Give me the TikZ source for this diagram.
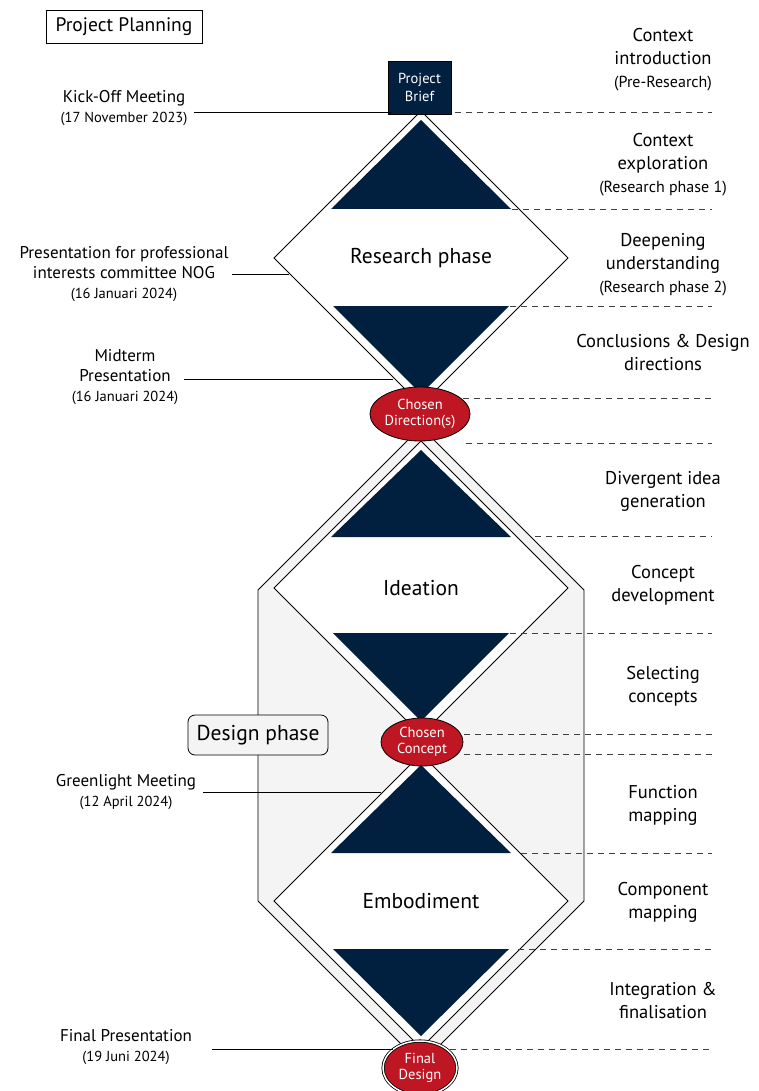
\documentclass[tikz,border=0pt]{standalone}
\usepackage{fontspec}
\setmainfont{PT Sans}
\usetikzlibrary{shapes.geometric}
\definecolor{navy}{HTML}{012040}
\definecolor{chosenred}{HTML}{BE1622}
\definecolor{phasegray}{HTML}{F4F4F4}
\newcommand{\datetxt}[1]{{\fontsize{14.5}{17}\selectfont #1}}
\newcommand{\subtxt}[1]{{\fontsize{16}{19}\selectfont #1}}

\begin{document}
\begin{tikzpicture}[x=1pt,y=-1pt,every path/.style={line width=0.8pt},
  stage/.style={align=center,font=\fontsize{18.5}{23}\selectfont},
  meeting/.style={align=center,font=\fontsize{17}{20}\selectfont},
  choice/.style={ellipse,draw=black,fill=chosenred,text=white,inner sep=0pt,align=center,font=\fontsize{14.5}{16}\selectfont},
  phasename/.style={font=\fontsize{21.5}{26}\selectfont},
  guide/.style={dash pattern=on 6pt off 5pt,draw=black!75},
  face/.style={fill=white,draw=black}]
\useasboundingbox (0,0) rectangle (758,1091);

\coordinate (RT) at (421,111);
\coordinate (RL) at (274,258);
\coordinate (RB) at (421,405);
\coordinate (RR) at (568,258);
\coordinate (IT) at (421,441);
\coordinate (IL) at (274,588);
\coordinate (IB) at (421,735);
\coordinate (IR) at (568,588);
\coordinate (ET) at (421,754);
\coordinate (EL) at (274,901);
\coordinate (EB) at (421,1048);
\coordinate (ER) at (568,901);
\coordinate (OT) at (421,427);
\coordinate (OL) at (258,590);
\coordinate (OLL) at (258,901);
\coordinate (OB) at (421,1064);
\coordinate (ORR) at (584,901);
\coordinate (OR) at (584,590);

\draw[fill=phasegray] (OT) -- (OL) -- (OLL) -- (OB) -- (ORR) -- (OR) -- cycle;  % design phase
\draw[face] (RT) -- (RL) -- (RB) -- (RR) -- cycle;
\draw[face] (IT) -- (IL) -- (IB) -- (IR) -- cycle;
\draw[face] (ET) -- (EL) -- (EB) -- (ER) -- cycle;

\fill[navy] (421,120) -- (331,209) -- (511,209) -- cycle;
\fill[navy] (333,306) -- (509,306) -- (421,394) -- cycle;
\fill[navy] (421,450) -- (331,537) -- (511,537) -- cycle;
\fill[navy] (333,633) -- (509,633) -- (421,721) -- cycle;
\fill[navy] (421,765) -- (331,853) -- (511,853) -- cycle;
\fill[navy] (333,949) -- (509,949) -- (421,1036) -- cycle;

\foreach \y/\x in {112/455,209/512,306/510,398/463,443/466,536/535,633/510,734/464,754/464,853/521,949/518,1049/450}
  \draw[guide] (\x,\y) -- (712,\y);

\node[phasename] (research) at (421,258) {Research phase};
\node[phasename] (ideation) at (421,588) {Ideation};
\node[phasename] (embodiment) at (421,901) {Embodiment};

\node[choice,minimum width=94,minimum height=54] (direction) at (420,414) {Chosen\\Direction(s)};
\node[choice,minimum width=82,minimum height=48] (concept) at (422,742) {Chosen\\Concept};
\node[choice,minimum width=74,minimum height=54,double=white,double distance=1.5pt] (final) at (420,1068) {Final\\Design};
\node[draw=black,fill=navy,text=white,minimum width=63,minimum height=53,align=center,font=\fontsize{14.5}{18}\selectfont] (brief) at (419.5,87.5) {Project\\Brief};

\node[draw=black,minimum width=156,minimum height=33,font=\fontsize{19.5}{22}\selectfont] (planning) at (124,26.5) {Project Planning};
\node[draw=black,fill=phasegray,rounded corners=7,minimum width=140,minimum height=40,font=\fontsize{21.5}{26}\selectfont] (designphase) at (258,735) {Design phase};

% meetings
\node[meeting] (kickoff) at (124,108) {Kick-Off Meeting\\\datetxt{(17 November 2023)}};
\node[meeting] (nog) at (124,274) {Presentation for professional\\interests committee NOG\\\datetxt{(16 Januari 2024)}};
\node[meeting] (midterm) at (125,377) {Midterm\\Presentation\\\datetxt{(16 Januari 2024)}};
\node[meeting] (greenlight) at (126,792) {Greenlight Meeting\\\datetxt{(12 April 2024)}};
\node[meeting] (finalpres) at (126,1047) {Final Presentation\\\datetxt{(19 Juni 2024)}};

\coordinate (kickend) at (391,112);
\coordinate (nogend) at (289,274);
\coordinate (midend) at (393,379);
\coordinate (greenend) at (381,792);
\coordinate (finalend) at (393,1049);

\draw ([xshift=3]kickoff.east |- kickend) -- (kickend);
\draw (nog.east |- nogend) -- (nogend);
\draw ([xshift=2]midterm.east |- midend) -- (midend);
\draw ([xshift=3]greenlight.east |- greenend) -- (greenend);
\draw ([xshift=16]finalpres.east |- finalend) -- (finalend);

% stages
\node[stage] (intro) at (663,60) {Context\\introduction\\\subtxt{(Pre-Research)}};
\node[stage] (explore) at (663,165) {Context\\exploration\\\subtxt{(Research phase 1)}};
\node[stage] (deepen) at (663,265) {Deepening\\understanding\\\subtxt{(Research phase 2)}};
\node[stage] (conclude) at (663,353) {Conclusions \& Design\\directions};
\node[stage] (diverge) at (663,491) {Divergent idea\\generation};
\node[stage] (develop) at (663,585) {Concept\\development};
\node[stage] (select) at (663,686) {Selecting\\concepts};
\node[stage] (function) at (663,805) {Function\\mapping};
\node[stage] (component) at (663,902) {Component\\mapping};
\node[stage] (integrate) at (663,1001) {Integration \&\\finalisation};
\end{tikzpicture}
\end{document}
